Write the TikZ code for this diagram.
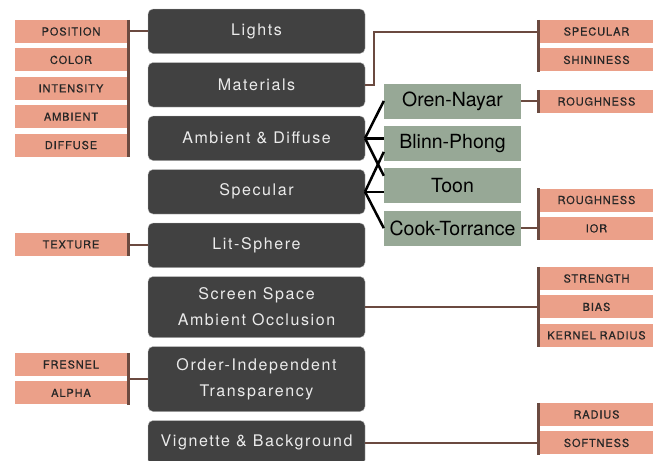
\documentclass[tikz,border=0pt]{standalone}
\usepackage{fontspec}
\usepackage{xcolor}
\usetikzlibrary{positioning,calc}
\newfontfamily\panelfont[LetterSpace=10]{TeX Gyre Heros}
\newfontfamily\paramfont[LetterSpace=8,FakeBold=0.5]{TeX Gyre Heros}
\newfontfamily\shaderfont{TeX Gyre Heros}
\definecolor{panelgray}{HTML}{414141}
\definecolor{shadergreen}{HTML}{97A896}
\definecolor{paramsalmon}{HTML}{EBA089}
\definecolor{linkbrown}{HTML}{6B4A40}
\tikzset{
  featurebox/.style={rectangle, draw=gray!55, fill=panelgray, rounded corners=5pt,
    minimum width=217pt, minimum height=44.5pt, align=center, text=white!92!black,
    font={\panelfont\fontsize{16}{26}\selectfont}, inner sep=2pt, outer sep=0pt},
  shaderbox/.style={rectangle, fill=shadergreen, minimum width=137pt, minimum height=35pt,
    align=center, font={\shaderfont\fontsize{19.5}{22}\selectfont}, inner sep=0pt},
  parambox/.style={rectangle, fill=paramsalmon, minimum width=112pt, minimum height=23pt,
    align=center, font={\paramfont\fontsize{11}{13}\selectfont}, text=black!85, inner sep=0pt},
  groupbar/.style={draw=linkbrown, line width=3pt},
  paramlink/.style={draw=linkbrown, line width=2pt},
  shaderlink/.style={draw=black, line width=2.5pt},
}

\begin{document}
\begin{tikzpicture}[x=1pt, y=-1pt]
  \useasboundingbox (0,0) rectangle (657,461);

  % Feature panels (middle column)
  \node[featurebox] (lights) at (256.5,31.25) {Lights};
  \node[featurebox, below=9pt of lights] (materials) {Materials};
  \node[featurebox, below=9pt of materials] (ambdiff) {Ambient \& Diffuse};
  \node[featurebox, below=9pt of ambdiff] (specular) {Specular};
  \node[featurebox, below=9pt of specular] (litsphere) {Lit-Sphere};
  \node[featurebox, below=9pt of litsphere, minimum height=61pt] (ssao) {Screen Space\\Ambient Occlusion};
  \node[featurebox, below=9pt of ssao, minimum height=65pt] (oit) {Order-Independent\\Transparency};
  \node[featurebox, below=9pt of oit] (vignette) {Vignette \& Background};

  % Shading models
  \node[shaderbox] (orennayar) at (452.5,101) {Oren-Nayar};
  \node[shaderbox, below=7pt of orennayar] (blinnphong) {Blinn-Phong};
  \node[shaderbox, below=7pt of blinnphong] (toon) {Toon};
  \node[shaderbox, below=7pt of toon] (cooktorrance) {Cook-Torrance};

  % Parameters on the left
  \node[parambox] (position) at (71,31.5) {POSITION};
  \node[parambox, below=5pt of position] (color) {COLOR};
  \node[parambox, below=5pt of color] (intensity) {INTENSITY};
  \node[parambox, below=5pt of intensity] (ambient) {AMBIENT};
  \node[parambox, below=5pt of ambient] (diffuse) {DIFFUSE};
  \node[parambox] (texture) at (71,244.5) {TEXTURE};
  \node[parambox] (fresnel) at (71,364.5) {FRESNEL};
  \node[parambox, below=5pt of fresnel] (alpha) {ALPHA};

  % Parameters on the right
  \node[parambox, minimum width=113pt] (specparam) at (596.5,31.5) {SPECULAR};
  \node[parambox, minimum width=113pt, below=5pt of specparam] (shininess) {SHININESS};
  \node[parambox, minimum width=113pt] (roughnessA) at (596.5,101.5) {ROUGHNESS};
  \node[parambox, minimum width=113pt] (roughnessB) at (596.5,200) {ROUGHNESS};
  \node[parambox, minimum width=113pt, below=5pt of roughnessB] (ior) {IOR};
  \node[parambox, minimum width=113pt] (strength) at (596.5,278.5) {STRENGTH};
  \node[parambox, minimum width=113pt, below=5pt of strength] (bias) {BIAS};
  \node[parambox, minimum width=113pt, below=5pt of bias] (kernelradius) {KERNEL RADIUS};
  \node[parambox, minimum width=113pt] (radius) at (596.5,414.5) {RADIUS};
  \node[parambox, minimum width=113pt, below=5pt of radius] (softness) {SOFTNESS};

  % Bars grouping the parameters
  \draw[groupbar] ([xshift=1.5pt]position.north east) -- ([xshift=1.5pt]diffuse.south east);
  \draw[groupbar] ([xshift=1.5pt]texture.north east) -- ([xshift=1.5pt]texture.south east);
  \draw[groupbar] ([xshift=1.5pt]fresnel.north east) -- ([xshift=1.5pt]alpha.south east);
  \draw[groupbar] ([xshift=-1.5pt]specparam.north west) -- ([xshift=-1.5pt]shininess.south west);
  \draw[groupbar] ([xshift=-1.5pt]roughnessA.north west) -- ([xshift=-1.5pt]roughnessA.south west);
  \draw[groupbar] ([xshift=-1.5pt]roughnessB.north west) -- ([xshift=-1.5pt]ior.south west);
  \draw[groupbar] ([xshift=-1.5pt]strength.north west) -- ([xshift=-1.5pt]kernelradius.south west);
  \draw[groupbar] ([xshift=-1.5pt]radius.north west) -- ([xshift=-1.5pt]softness.south west);

  % Links from panels to their parameters
  \draw[paramlink] (lights.west) -- (lights.west -| position.east);
  \draw[paramlink] (litsphere.west) -- (litsphere.west -| texture.east);
  \draw[paramlink] (oit.west) -- (oit.west -| fresnel.east);
  \draw[paramlink] (materials.east) -- ++(9,0) |- (specparam.west);
  \draw[paramlink] (orennayar.east) -- (orennayar.east -| roughnessA.west);
  \draw[paramlink] (cooktorrance.east) -- (cooktorrance.east -| ior.west);
  \draw[paramlink] (ssao.east) -- (ssao.east -| bias.west);
  \draw[paramlink] (vignette.east) -- (vignette.east -| softness.west);

  % Lighting panels to shading models
  \draw[shaderlink] (ambdiff.east) -- (orennayar.west);
  \draw[shaderlink] (ambdiff.east) -- (ambdiff.east -| blinnphong.west);
  \draw[shaderlink] (ambdiff.east) -- ([yshift=10pt]toon.west);
  \draw[shaderlink] (specular.east) -- ([yshift=-8.5pt]blinnphong.west);
  \draw[shaderlink] (specular.east) -- (specular.east -| toon.west);
  \draw[shaderlink] (specular.east) -- (cooktorrance.west);
\end{tikzpicture}
\end{document}
